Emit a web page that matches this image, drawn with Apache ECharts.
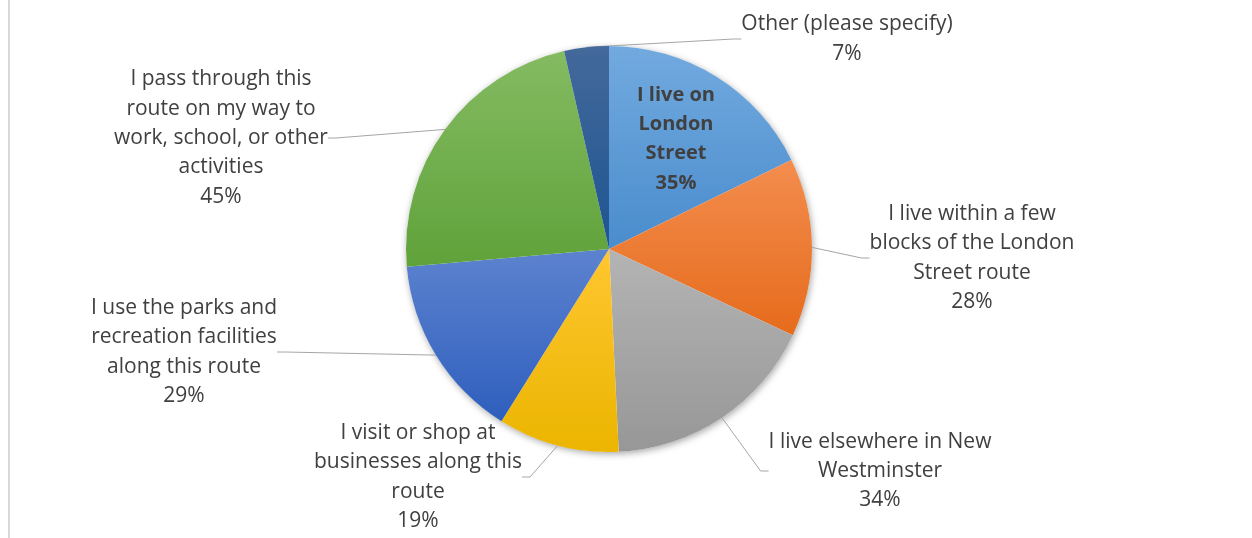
<!DOCTYPE html>
<html>
<head>
<meta charset="utf-8">
<script src="https://cdn.jsdelivr.net/npm/echarts@6/dist/echarts.min.js"></script>
<style>
html,body{margin:0;padding:0;background:#fff;}
#chart{width:1252px;height:538px;}
</style>
</head>
<body>
<div id="chart"></div>
<script>
// ---- data ----
const categories = [
  'I live on\nLondon\nStreet',
  'I live within a few\nblocks of the London\nStreet route',
  'I live elsewhere in New\nWestminster',
  'I visit or shop at\nbusinesses along this\nroute',
  'I use the parks and\nrecreation facilities\nalong this route',
  'I pass through this\nroute on my way to\nwork, school, or other\nactivities',
  'Other (please specify)'
];
const values = [35, 28, 34, 19, 29, 45, 7];

// ---- styles ----
const gradients = [
  ['#72aadf', '#4a8ccd'],
  ['#f38d4e', '#e66b1c'],
  ['#b4b4b4', '#979797'],
  ['#ffc630', '#ebb500'],
  ['#5d83cf', '#2e5ebd'],
  ['#84bb62', '#60a23a'],
  ['#44699b', '#1d5591']
];
const labelPos = [
  [676, 139], [972, 258], [880, 471], [418, 477], [184, 352], [221, 138], [847, 39]
];

const chart = echarts.init(document.getElementById('chart'));
const FONT = '"Open Sans", Lato, sans-serif';

const data = categories.map((name, i) => ({
  name: name,
  value: values[i],
  itemStyle: {
    color: new echarts.graphic.LinearGradient(0, 0, 0, 1, [
      { offset: 0, color: gradients[i][0] },
      { offset: 1, color: gradients[i][1] }
    ])
  },
  label: i === 0 ? { position: 'inside', fontWeight: 'bold', fontSize: 20 } : {},
  labelLine: { show: i !== 0 }
}));

chart.setOption({
  backgroundColor: '#ffffff',
  animation: false,
  graphic: [{
    type: 'line',
    shape: { x1: 9, y1: 0, x2: 9, y2: 538 },
    style: { stroke: '#d9d9d9', lineWidth: 2 },
    silent: true
  }],
  series: [
    {
      type: 'pie',
      silent: true,
      center: [609, 249],
      radius: 203,
      z: 1,
      label: { show: false },
      labelLine: { show: false },
      itemStyle: {
        color: '#ffffff',
        shadowBlur: 7,
        shadowColor: 'rgba(0,0,0,0.35)',
        shadowOffsetX: 1,
        shadowOffsetY: 2
      },
      data: [{ value: 1, name: 'shadow' }]
    },
    {
      type: 'pie',
      center: [609, 249],
      radius: 203,
      startAngle: 90,
      clockwise: true,
      z: 2,
      avoidLabelOverlap: false,
      itemStyle: { borderWidth: 0 },
      label: {
        show: true,
        formatter: p => p.name + '\n' + p.value + '%',
        fontFamily: FONT,
        fontSize: 21,
        lineHeight: 29.3,
        color: '#404040',
        align: 'center'
      },
      labelLine: {
        show: true,
        length: 10,
        length2: 8,
        lineStyle: { color: '#a6a6a6', width: 1 }
      },
      labelLayout: function (params) {
        const p = labelPos[params.dataIndex];
        return { x: p[0], y: p[1], align: 'center', verticalAlign: 'middle' };
      },
      data: data
    }
  ]
});
</script>
</body>
</html>
